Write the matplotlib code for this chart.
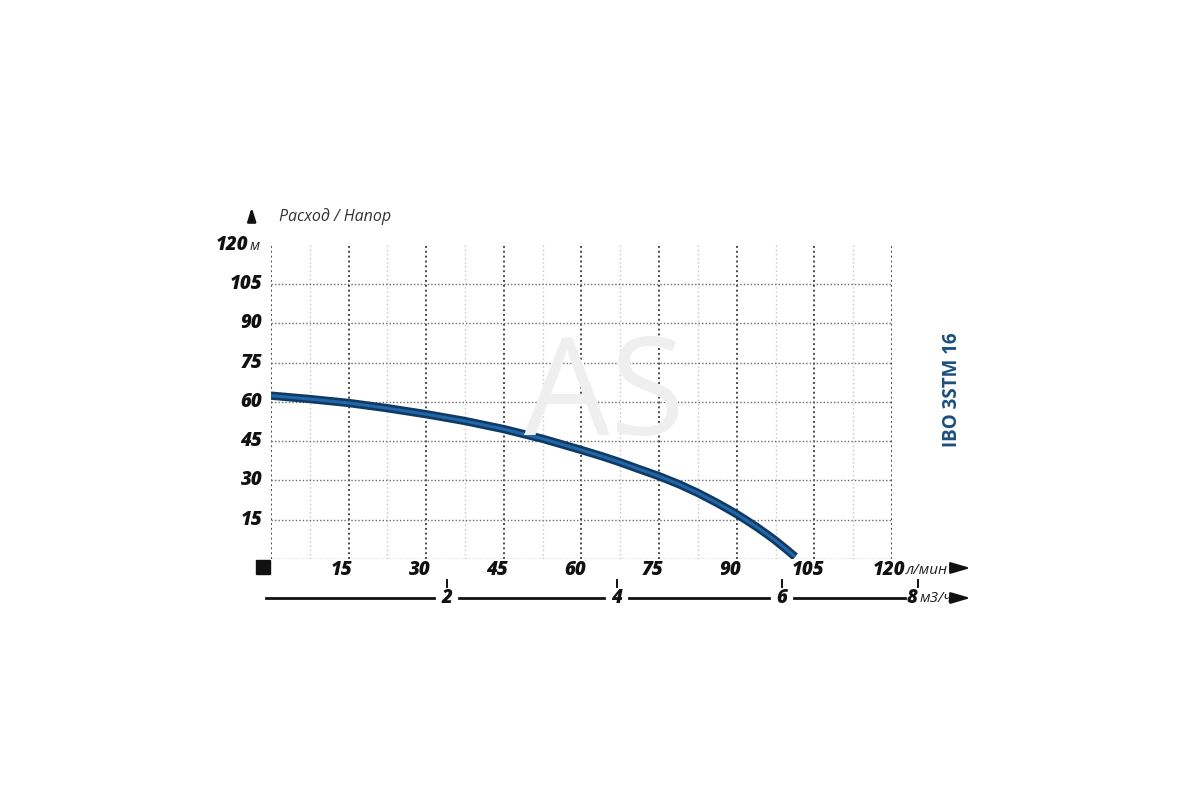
import matplotlib
matplotlib.use("Agg")
import matplotlib.pyplot as plt
import matplotlib.transforms as mtransforms
from matplotlib.patches import Rectangle

# Данные кривой (л/мин -> напор, м)
flow = [0, 7.5, 15, 22.5, 30, 37.5, 45, 52.5, 56, 60, 64, 67.5, 71, 75, 79, 82.5,
        86, 88, 90, 92, 94, 96, 97.5, 99.5, 101.3]
head = [62.4, 61.1, 59.6, 57.6, 55.3, 52.7, 49.6, 45.9, 43.9, 41.6, 39.2, 36.9, 34.4,
        31.6, 28.4, 25.2, 21.6, 19.4, 17.1, 14.6, 12.0, 9.2, 7.0, 3.8, 0.8]

x_ticks = [15, 30, 45, 60, 75, 90, 105, 120]
x_minor = [7.5, 22.5, 37.5, 52.5, 67.5, 82.5, 97.5, 112.5]
y_ticks = [15, 30, 45, 60, 75, 90, 105, 120]
h_lines = [0, 15, 30, 45, 60, 75, 90, 105]

# вторая шкала м3/ч (позиции в л/мин, как на картинке)
m3h_labels = ["2", "4", "6", "8"]
m3h_pos = [34, 66.8, 98.7, 125]

model = "IBO 3STM 16"
curve_dark = "#0f3a63"
curve_light = "#2366a8"

plt.rcParams['font.family'] = ['Open Sans', 'DejaVu Sans']

fig = plt.figure(figsize=(12, 8), dpi=100)
ax = fig.add_axes([0.2258, 0.3014, 0.5175, 0.3924])
ax.set_xlim(0, 120)
ax.set_ylim(0, 120)
for s in ax.spines.values():
    s.set_visible(False)
ax.set_xticks([])
ax.set_yticks([])

# водяной знак
fig.text(0.504, 0.50, "AS", fontsize=98, color="#efefef", ha="center", va="center", zorder=0)

# сетка
for x in x_minor:
    ax.axvline(x, color="#c4c4c4", lw=1.0, ls=(0, (1, 2)), zorder=1)
for x in [0] + x_ticks:
    ax.axvline(x, color="#4a4a4a", lw=1.4, ls=(0, (1, 1.5)), zorder=2)
for y in h_lines:
    ax.axhline(y, color="#6a6a6a", lw=1.0, ls=(0, (1, 1.5)), zorder=2)

# кривая
ax.plot(flow, head, color=curve_dark, lw=6, solid_capstyle="butt",
        solid_joinstyle="round", zorder=5)
ax.plot(flow, head, color=curve_light, lw=2.2, solid_capstyle="butt",
        solid_joinstyle="round", zorder=6)

tx = mtransforms.blended_transform_factory(ax.transData, ax.transAxes)
ty = mtransforms.blended_transform_factory(ax.transAxes, ax.transData)
lab = dict(fontsize=13.5, fontweight=800, fontstyle="italic", color="#111111")

# подписи оси Y
for y in y_ticks:
    if y == 120:
        ax.text(-0.036, y, str(y), transform=ty, ha="right", va="center", **lab)
        ax.text(-0.035, y - 0.5, "м", transform=ty, ha="left", va="center",
                fontsize=10.5, fontstyle="italic", color="#222222")
    else:
        ax.text(-0.014, y, str(y), transform=ty, ha="right", va="center", **lab)

# подписи оси X (л/мин)
for x in x_ticks:
    if x == 120:
        ax.text(x + 2.6, -0.036, str(x), transform=tx, ha="right", va="center", **lab)
        ax.text(x + 2.7, -0.038, "л/мин", transform=tx, ha="left", va="center",
                fontsize=11, fontstyle="italic", color="#222222")
    else:
        ax.text(x - 1.3, -0.036, str(x), transform=tx, ha="center", va="center", **lab)

# шкала м3/ч
y_line = -0.1246
seg_start = -1
for p, l in zip(m3h_pos, m3h_labels):
    ax.plot([p, p], [-0.068, -0.089], transform=tx, color="#111111", lw=1.4, clip_on=False)
    ax.text(p - (1.2 if l == "8" else 0), y_line, l, transform=tx, ha="center",
            va="center", **lab)
    ax.plot([seg_start, p - 2.4], [y_line, y_line], transform=tx, color="#111111",
            lw=2, clip_on=False)
    seg_start = p + 2.4
ax.text(m3h_pos[-1] + 0.3, y_line - 0.003, "м3/ч", transform=tx, ha="left", va="center",
        fontsize=11, fontstyle="italic", color="#222222")

# стрелки
arrow = dict(arrowstyle="-|>,head_length=1.2,head_width=0.35", color="#111111", lw=1.5)
ax.annotate("", xy=(1.131, -0.029), xytext=(1.09, -0.029), xycoords="axes fraction",
            arrowprops=arrow, annotation_clip=False)
ax.annotate("", xy=(1.131, y_line), xytext=(1.095, y_line), xycoords="axes fraction",
            arrowprops=arrow, annotation_clip=False)
ax.annotate("", xy=(-0.031, 1.129), xytext=(-0.031, 1.064), xycoords="axes fraction",
            arrowprops=dict(arrowstyle="-|>,head_length=0.8,head_width=0.25",
                            color="#111111", lw=1.8), annotation_clip=False)

ax.text(0.013, 1.092, "Расход / Напор", transform=ax.transAxes, ha="left", va="center",
        fontsize=11.5, fontstyle="italic", color="#333333")

# чёрный квадрат в начале
ax.add_patch(Rectangle((-0.0242, -0.048), 0.0225, 0.0446, transform=ax.transAxes,
                       color="#111111", clip_on=False))

# название модели
fig.text(0.7935, 0.5125, model, rotation=90, ha="center", va="center",
         fontsize=13.5, fontweight="bold", color="#1b4f7e")

fig.savefig("out.png", dpi=100, facecolor="white")
